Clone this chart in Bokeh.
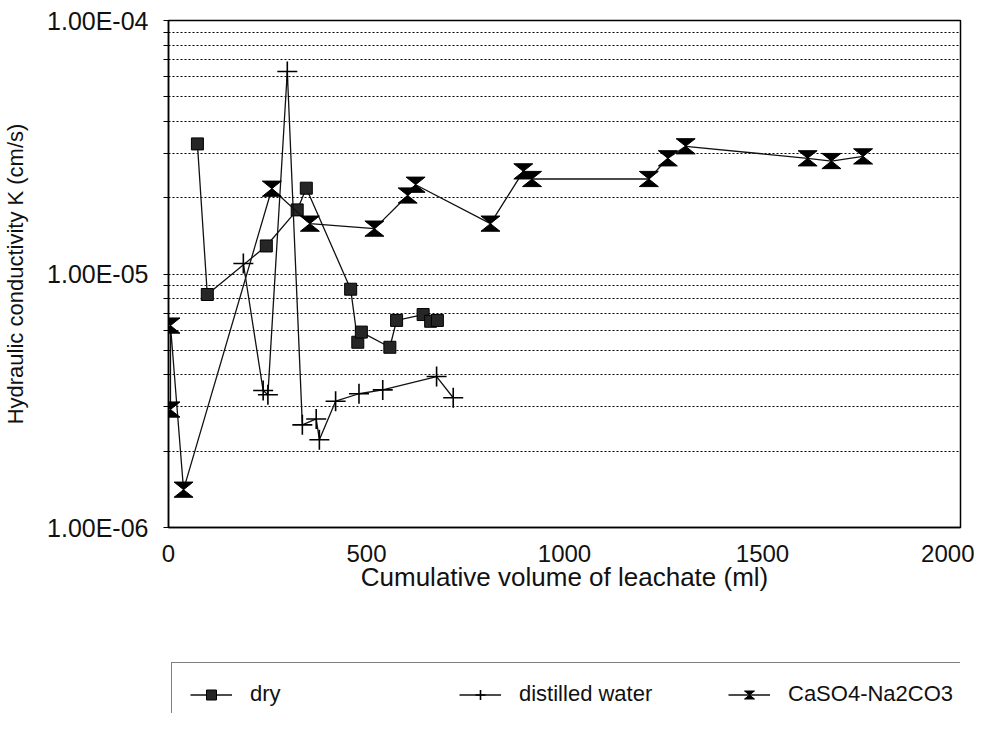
from bokeh.plotting import figure
from bokeh.layouts import column
from bokeh.models import (FixedTicker, CustomJSTickFormatter, Legend, LegendItem,
                          CustomJS, Range1d)
from bokeh.embed import file_html
from bokeh.resources import INLINE

# ---------------- data ----------------
dry_x = [73, 98, 247, 325, 348, 460, 478, 487, 559, 576, 643, 662, 679]
dry_k = [3.26e-5, 8.30e-6, 1.29e-5, 1.79e-5, 2.18e-5, 8.71e-6, 5.38e-6, 5.90e-6,
         5.14e-6, 6.56e-6, 6.92e-6, 6.51e-6, 6.56e-6]

water_x = [189, 239, 251, 300, 338, 373, 381, 422, 481, 541, 677, 719]
water_k = [1.10e-5, 3.47e-6, 3.34e-6, 6.29e-5, 2.54e-6, 2.68e-6, 2.22e-6, 3.15e-6,
           3.37e-6, 3.49e-6, 3.94e-6, 3.25e-6]

caso4_x = [5, 5, 38, 261, 357, 520, 604, 624, 813, 896, 918, 1213, 1261, 1306,
           1614, 1674, 1754]
caso4_k = [2.92e-6, 6.26e-6, 1.41e-6, 2.17e-5, 1.58e-5, 1.51e-5, 2.04e-5, 2.25e-5,
           1.58e-5, 2.54e-5, 2.37e-5, 2.37e-5, 2.86e-5, 3.19e-5, 2.86e-5, 2.79e-5,
           2.91e-5]

x_ticks = [0, 500, 1000, 1500, 2000]
y_major = [1e-6, 1e-5, 1e-4]
y_minor = [m * 1e-6 for m in range(2, 10)] + [m * 1e-5 for m in range(2, 10)]

series_names = ["dry", "distilled water", "CaSO4-Na2CO3"]

FONT = "Liberation Sans"
INK = "#111111"

hourglass = CustomJS(code="""
export default (args, obj, {ctx, i, r, visuals}) => {
  const w = r
  const h = 0.8 * r
  ctx.beginPath()
  ctx.moveTo(-w, -h)
  ctx.lineTo(w, -h)
  ctx.lineTo(0, 0)
  ctx.closePath()
  ctx.moveTo(-w, h)
  ctx.lineTo(w, h)
  ctx.lineTo(0, 0)
  ctx.closePath()
  visuals.fill.apply(ctx, i)
  visuals.line.apply(ctx, i)
}
""")

# ---------------- main chart ----------------
p = figure(width=974, height=610,
           x_range=Range1d(0, 2000), y_range=Range1d(1e-6, 1e-4),
           y_axis_type="log", output_backend="svg", toolbar_location=None,
           min_border_left=168, min_border_right=14,
           min_border_top=20, min_border_bottom=83)
p.background_fill_color = "white"
p.border_fill_color = "white"
p.outline_line_color = "black"
p.outline_line_width = 1.5

p.xaxis.ticker = FixedTicker(ticks=x_ticks)
p.yaxis.ticker = FixedTicker(ticks=y_major, minor_ticks=y_minor)
p.yaxis.formatter = CustomJSTickFormatter(code="""
const e = Math.round(Math.log10(tick));
const a = Math.abs(e);
return "1.00E" + (e < 0 ? "-" : "+") + (a < 10 ? "0" + a : "" + a);
""")
for ax in (p.xaxis[0], p.yaxis[0]):
    ax.axis_line_color = "black"
    ax.axis_line_width = 1.5
    ax.major_label_text_font = FONT
    ax.major_label_text_color = INK
    ax.axis_label_text_font = FONT
    ax.axis_label_text_font_style = "normal"
    ax.axis_label_text_color = INK
    ax.major_tick_in = 0
    ax.minor_tick_in = 0

p.xaxis.major_label_text_font_size = "24px"
p.xaxis.major_tick_out = 0
p.xaxis.minor_tick_out = 0
p.xaxis.major_label_standoff = 17
p.xaxis.axis_label = "Cumulative volume of leachate (ml)"
p.xaxis.axis_label_text_font_size = "26px"
p.xaxis.axis_label_standoff = -3

p.yaxis.major_label_text_font_size = "25px"
p.yaxis.major_tick_out = 5
p.yaxis.minor_tick_out = 5
p.yaxis.major_tick_line_color = "black"
p.yaxis.minor_tick_line_color = "black"
p.yaxis.major_label_standoff = 15
p.yaxis.axis_label = "Hydraulic conductivity K (cm/s)"
p.yaxis.axis_label_text_font_size = "22px"
p.yaxis.axis_label_standoff = 16

p.xgrid.visible = False
p.ygrid.grid_line_color = "black"
p.ygrid.grid_line_dash = "2 2"
p.ygrid.grid_line_width = 1
p.ygrid.minor_grid_line_color = "black"
p.ygrid.minor_grid_line_dash = "2 2"
p.ygrid.minor_grid_line_width = 1

p.line(dry_x, dry_k, line_color=INK, line_width=1.3)
p.scatter(dry_x, dry_k, marker="square", size=12, fill_color="#262626",
          line_color="black", line_width=1)
p.line(water_x, water_k, line_color=INK, line_width=1.3)
p.scatter(water_x, water_k, marker="cross", size=20, line_color="black", line_width=1.6)
p.line(caso4_x, caso4_k, line_color=INK, line_width=1.3)
p.scatter(caso4_x, caso4_k, marker="@hourglass", defs={"@hourglass": hourglass},
          size=19, fill_color="black", line_color="black", line_width=1)

# ---------------- legend strip (below the chart) ----------------
q = figure(width=974, height=103, x_range=Range1d(0, 1), y_range=Range1d(0, 1),
           x_axis_location=None, y_axis_location=None, output_backend="svg",
           toolbar_location=None, min_border=0)
q.outline_line_color = None
q.background_fill_color = "white"
q.border_fill_color = "white"
q.grid.visible = False

# proxy renderers (one point each, outside the visible range) for the legend glyphs
off = [-5]
lq1 = q.line(off, off, line_color=INK, line_width=1.3)
sq1 = q.scatter(off, off, marker="square", size=12, fill_color="#262626",
                line_color="black", line_width=1)
lq2 = q.line(off, off, line_color=INK, line_width=1.3)
sq2 = q.scatter(off, off, marker="cross", size=20, line_color="black", line_width=1.6)
lq3 = q.line(off, off, line_color=INK, line_width=1.3)
sq3 = q.scatter(off, off, marker="@hourglass", defs={"@hourglass": hourglass},
                size=19, fill_color="black", line_color="black", line_width=1)

legend = Legend(items=[
    LegendItem(label=series_names[0], renderers=[lq1, sq1]),
    LegendItem(label=series_names[1], renderers=[lq2, sq2]),
    LegendItem(label=series_names[2], renderers=[lq3, sq3]),
], orientation="horizontal", location=(3, -13))
legend.padding = 18
legend.glyph_width = 42
legend.glyph_height = 25
legend.label_height = 25
legend.label_standoff = 18
legend.label_width = 140
legend.spacing = 69
legend.label_text_font = FONT
legend.label_text_font_size = "22px"
legend.label_text_color = INK
legend.border_line_color = "black"
legend.border_line_width = 1.2
legend.background_fill_color = "white"
legend.background_fill_alpha = 1
q.add_layout(legend)

layout = column(p, q, spacing=0)
open("out.html", "w").write(file_html(layout, INLINE))
